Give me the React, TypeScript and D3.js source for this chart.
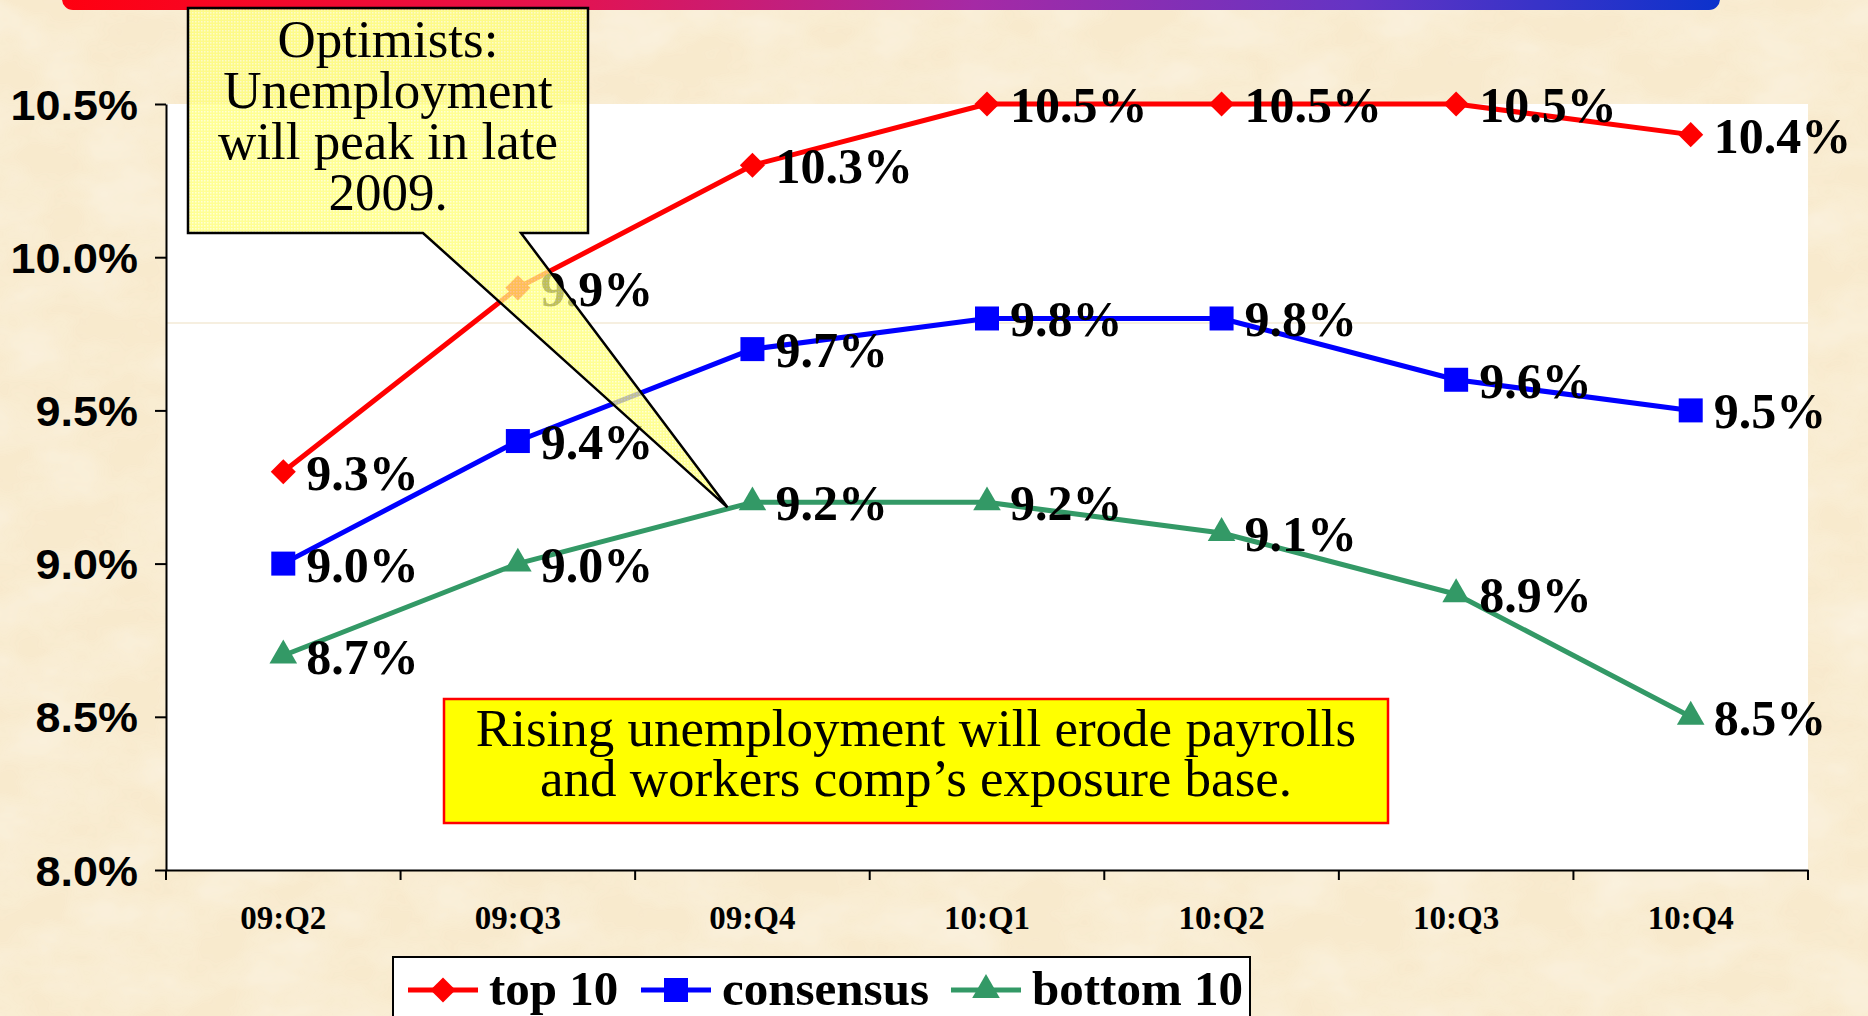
import React, { useEffect, useRef } from 'react'
import * as d3 from 'd3'

const quarters = ['09:Q2', '09:Q3', '09:Q4', '10:Q1', '10:Q2', '10:Q3', '10:Q4']
const top10 = [9.3, 9.9, 10.3, 10.5, 10.5, 10.5, 10.4]
const consensus = [9.0, 9.4, 9.7, 9.8, 9.8, 9.6, 9.5]
const bottom10 = [8.7, 9.0, 9.2, 9.2, 9.1, 8.9, 8.5]
const yTicks = [8.0, 8.5, 9.0, 9.5, 10.0, 10.5]
const seriesNames = ['top 10', 'consensus', 'bottom 10']
const optimistLines = ['Optimists:', 'Unemployment', 'will peak in late', '2009.']
const noteLines = ['Rising unemployment will erode payrolls', 'and workers comp\u2019s exposure base.']

const W = 1868
const H = 1016
const serif = '"Liberation Serif", "Times New Roman", serif'
const sans = '"Liberation Sans", Arial, sans-serif'

const App = () => {
  const svgRef = useRef<SVGSVGElement>(null)

  useEffect(() => {
    document.body.style.margin = '0'
    const svg = d3.select(svgRef.current)
    svg.selectAll('*').remove()

    const left = 166
    const right = 1808
    const top = 104
    const bottom = 870

    const x = d3.scaleBand().domain(quarters).range([left, right])
    const y = d3.scaleLinear().domain([8.0, 10.5]).range([bottom, top])
    const cx = (q: string) => (x(q) as number) + x.bandwidth() / 2

    const defs = svg.append('defs')

    // parchment texture
    const paper = defs.append('filter').attr('id', 'paper').attr('x', 0).attr('y', 0).attr('width', 1).attr('height', 1)
    paper.append('feTurbulence').attr('type', 'fractalNoise').attr('baseFrequency', '0.012 0.02').attr('numOctaves', 4).attr('seed', 7)
    paper
      .append('feColorMatrix')
      .attr('type', 'matrix')
      .attr('values', '0 0 0 0 0.975  0 0 0 0 0.925  0 0 0 0 0.82  0 0 0 -1.1 0.75')

    const bar = defs.append('linearGradient').attr('id', 'bar')
    const barStops = [
      [0, '#ff0010'],
      [0.3, '#e5124e'],
      [0.55, '#a52aa5'],
      [0.78, '#6434c4'],
      [1, '#0c32cc'],
    ]
    barStops.forEach(([o, c]) => bar.append('stop').attr('offset', o as number).attr('stop-color', c as string))

    const dots = defs.append('pattern').attr('id', 'dots').attr('width', 3).attr('height', 3).attr('patternUnits', 'userSpaceOnUse')
    dots.append('rect').attr('width', 3).attr('height', 3).attr('fill', '#ffff70')
    dots.append('rect').attr('width', 1.5).attr('height', 1.5).attr('fill', '#ffffc8')

    // background
    svg.append('rect').attr('width', W).attr('height', H).attr('fill', '#f8eacd')
    svg.append('rect').attr('width', W).attr('height', H).attr('filter', 'url(#paper)').attr('opacity', 0.9)

    // top banner
    svg.append('rect').attr('x', 62).attr('y', -20).attr('width', 1658).attr('height', 30).attr('rx', 11).attr('fill', 'url(#bar)')

    // plot area
    svg.append('rect').attr('x', left).attr('y', top).attr('width', right - left).attr('height', bottom - top).attr('fill', '#ffffff')
    svg
      .append('line')
      .attr('x1', left)
      .attr('x2', right)
      .attr('y1', y(9.785))
      .attr('y2', y(9.785))
      .attr('stroke', '#f3ead6')
      .attr('stroke-width', 1.5)

    // y axis
    const yAxis = svg
      .append('g')
      .attr('transform', `translate(${left},0)`)
      .call(d3.axisLeft(y).tickValues(yTicks).tickSize(11).tickSizeOuter(0).tickFormat((d) => `${(+d).toFixed(1)}%`))
    yAxis.select('.domain').attr('stroke', '#000').attr('stroke-width', 2)
    yAxis.selectAll('.tick line').attr('stroke', '#000').attr('stroke-width', 2)
    yAxis
      .selectAll('.tick text')
      .attr('x', -28 / 1.07)
      .attr('dy', '0.36em')
      .attr('transform', 'scale(1.07,1)')
      .attr('fill', '#000')
      .style('font-family', sans)
      .style('font-weight', 'bold')
      .style('font-size', '42px')

    // x axis
    const xAxis = svg
      .append('g')
      .attr('transform', `translate(0,${bottom})`)
      .call(d3.axisBottom(x).tickSize(0).tickSizeOuter(0))
    xAxis.select('.domain').attr('stroke', '#000').attr('stroke-width', 2)
    xAxis.selectAll('.tick text').remove()
    const edges = quarters.map((q) => x(q) as number).concat([right])
    svg
      .append('g')
      .selectAll('line')
      .data(edges)
      .join('line')
      .attr('x1', (d) => d)
      .attr('x2', (d) => d)
      .attr('y1', bottom)
      .attr('y2', bottom + 10)
      .attr('stroke', '#000')
      .attr('stroke-width', 2)
    svg
      .append('g')
      .selectAll('text')
      .data(quarters)
      .join('text')
      .attr('x', (d) => cx(d))
      .attr('y', 929)
      .attr('text-anchor', 'middle')
      .style('font-family', serif)
      .style('font-weight', 'bold')
      .style('font-size', '33px')
      .text((d) => d)

    const series = [
      { name: seriesNames[0], values: top10, color: '#ff0000', shape: 'diamond' },
      { name: seriesNames[1], values: consensus, color: '#0000ff', shape: 'square' },
      { name: seriesNames[2], values: bottom10, color: '#339966', shape: 'triangle' },
    ]

    const markerPath = (shape: string) => {
      if (shape === 'diamond') return d3.symbol(d3.symbolSquare, 315)()
      if (shape === 'square') return d3.symbol(d3.symbolSquare, 576)()
      return d3.symbol(d3.symbolTriangle, 330)()
    }
    const markerRot = (shape: string) => (shape === 'diamond' ? ' rotate(45)' : '')

    const line = d3
      .line<number>()
      .x((_, i) => cx(quarters[i]))
      .y((d) => y(d))

    const plot = svg.append('g')
    series.forEach((s) => {
      plot
        .append('path')
        .attr('d', line(s.values))
        .attr('fill', 'none')
        .attr('stroke', s.color)
        .attr('stroke-width', 5)
        .attr('stroke-linejoin', 'round')
    })
    series.forEach((s) => {
      plot
        .append('g')
        .selectAll('path')
        .data(s.values)
        .join('path')
        .attr('d', markerPath(s.shape))
        .attr('transform', (d, i) => `translate(${cx(quarters[i])},${y(d)})${markerRot(s.shape)}`)
        .attr('fill', s.color)
    })
    series.forEach((s) => {
      plot
        .append('g')
        .selectAll('text')
        .data(s.values)
        .join('text')
        .attr('x', (d, i) => cx(quarters[i]) + 23)
        .attr('y', (d) => y(d) + 18)
        .style('font-family', serif)
        .style('font-weight', 'bold')
        .style('font-size', '50px')
        .attr('fill', '#000')
        .text((d) => `${d.toFixed(1)}%`)
    })

    // optimists callout
    const bx0 = 188
    const bx1 = 588
    const by0 = 8
    const by1 = 233
    const tipX = cx(quarters[2]) - 25
    const tipY = y(bottom10[2]) + 5
    const callout = d3.path()
    callout.moveTo(bx0, by0)
    callout.lineTo(bx1, by0)
    callout.lineTo(bx1, by1)
    callout.lineTo(521, by1)
    callout.lineTo(tipX, tipY)
    callout.lineTo(423, by1)
    callout.lineTo(bx0, by1)
    callout.closePath()
    svg
      .append('path')
      .attr('d', callout.toString())
      .attr('fill', 'url(#dots)')
      .attr('fill-opacity', 0.75)
      .attr('stroke', '#000')
      .attr('stroke-width', 2.5)
      .attr('stroke-linejoin', 'miter')
    svg
      .append('text')
      .attr('text-anchor', 'middle')
      .style('font-family', serif)
      .style('font-size', '53px')
      .attr('fill', '#000')
      .selectAll('tspan')
      .data(optimistLines)
      .join('tspan')
      .attr('x', (bx0 + bx1) / 2)
      .attr('y', (d, i) => 57 + i * 51)
      .text((d) => d)

    // note box
    svg
      .append('rect')
      .attr('x', 444)
      .attr('y', 699)
      .attr('width', 944)
      .attr('height', 124)
      .attr('fill', '#ffff00')
      .attr('stroke', '#ff0000')
      .attr('stroke-width', 2.5)
    svg
      .append('text')
      .attr('text-anchor', 'middle')
      .style('font-family', serif)
      .style('font-size', '53px')
      .attr('fill', '#000')
      .selectAll('tspan')
      .data(noteLines)
      .join('tspan')
      .attr('x', 916)
      .attr('y', (d, i) => 746 + i * 50)
      .text((d) => d)

    // legend
    const legend = svg.append('g')
    legend
      .append('rect')
      .attr('x', 393)
      .attr('y', 957)
      .attr('width', 857)
      .attr('height', 80)
      .attr('fill', '#ffffff')
      .attr('stroke', '#000')
      .attr('stroke-width', 2)
    const legendX = [408, 641, 951]
    series.forEach((s, i) => {
      const lx = legendX[i]
      const ly = 990
      legend
        .append('line')
        .attr('x1', lx)
        .attr('x2', lx + 70)
        .attr('y1', ly)
        .attr('y2', ly)
        .attr('stroke', s.color)
        .attr('stroke-width', 5)
      legend
        .append('path')
        .attr('d', markerPath(s.shape))
        .attr('transform', `translate(${lx + 35},${ly})${markerRot(s.shape)}`)
        .attr('fill', s.color)
      legend
        .append('text')
        .attr('x', lx + 81)
        .attr('y', 1005)
        .style('font-family', serif)
        .style('font-weight', 'bold')
        .style('font-size', '49px')
        .attr('fill', '#000')
        .text(s.name)
    })
  }, [])

  return (
    <div style={{ position: 'fixed', left: 0, top: 0, width: W, height: H, overflow: 'hidden' }}>
      <svg ref={svgRef} width={W} height={H} style={{ display: 'block' }}></svg>
    </div>
  )
}

export default App
